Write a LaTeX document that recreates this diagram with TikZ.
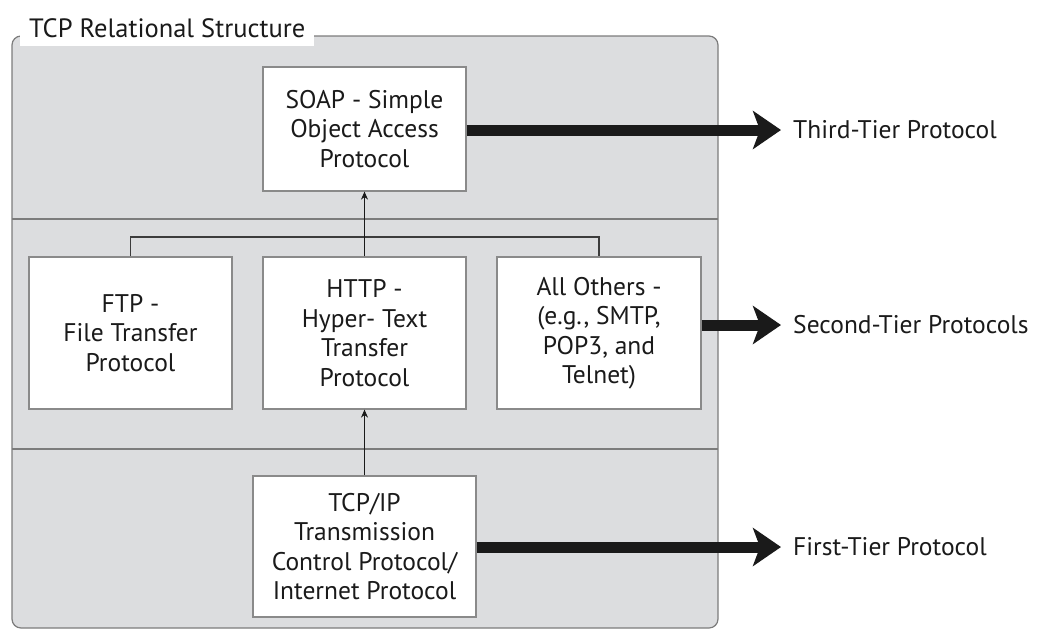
\documentclass[tikz,border=0pt]{standalone}
\usepackage{fontspec}
\setmainfont{PT Sans}
\usetikzlibrary{arrows.meta}
\definecolor{panel}{HTML}{DCDDDF}
\definecolor{rule}{HTML}{7C7C7C}
\definecolor{boxline}{HTML}{8A8A8A}
\definecolor{ink}{HTML}{1A1A1A}
\tikzset{
  pbox/.style={draw=boxline, line width=1.2pt, fill=white, align=center, inner sep=0pt,
    font=\fontsize{25.5}{29.5}\selectfont, text=ink},
  tierlabel/.style={anchor=west, inner sep=0pt, font=\fontsize{25.5}{29}\selectfont, text=ink},
  bigarrow/.style={draw=ink, line width=11pt, -{Stealth[length=28pt,width=38pt,inset=7pt]}, shorten >=12pt},
  thinarrow/.style={draw=ink, line width=1.2pt, -{Stealth[length=8pt,width=7pt]}},
  bracket/.style={draw=ink!85, line width=1.5pt}
}
\begin{document}
\begin{tikzpicture}[x=1pt,y=-1pt]
\useasboundingbox (0,0) rectangle (1052,630);
% outer frame
\draw[draw=rule, line width=1.2pt, fill=panel, rounded corners=9pt] (12,36) rectangle (718,628);
\draw[rule, line width=2pt] (12,219) -- (718,219);
\draw[rule, line width=2pt] (12,449) -- (718,449);
% title
\node[fill=white, anchor=west, inner xsep=9pt, inner ysep=0pt, minimum height=35pt,
      font=\fontsize{26.5}{30}\selectfont, text=ink] (title) at (20,28) {TCP Relational Structure};
% boxes
\node[pbox, minimum width=203pt, minimum height=124pt] (soap) at (364.5,129) {SOAP - Simple\\Object Access\\Protocol};
\node[pbox, minimum width=203pt, minimum height=152pt] (ftp) at (130.5,333) {FTP -\\File Transfer\\Protocol};
\node[pbox, minimum width=203pt, minimum height=152pt] (http) at (364.5,333) {HTTP -\\Hyper- Text\\Transfer\\Protocol};
\node[pbox, minimum width=204pt, minimum height=152pt] (others) at (599,333) {All Others -\\(e.g., SMTP,\\POP3, and\\Telnet)};
\node[pbox, minimum width=223pt, minimum height=141pt] (tcp) at (364.5,546.5) {TCP/IP\\Transmission\\Control Protocol/\\Internet Protocol};
% labels
\node[tierlabel] (third) at (793,130) {Third-Tier Protocol};
\node[tierlabel] (second) at (793,325) {Second-Tier Protocols};
\node[tierlabel] (first) at (793,547) {First-Tier Protocol};
% bracket and thin arrows
\coordinate (brk) at (364.5,237);
\draw[bracket] (ftp.north) |- (brk) -| (others.north);
\draw[thinarrow] (http.north) -- (soap.south);
\draw[thinarrow] (tcp.north) -- (http.south);
% thick arrows
\draw[bigarrow] (soap.east |- third.west) -- (third.west);
\draw[bigarrow] (others.east |- second.west) -- (second.west);
\draw[bigarrow] (tcp.east |- first.west) -- (first.west);
\end{tikzpicture}
\end{document}
